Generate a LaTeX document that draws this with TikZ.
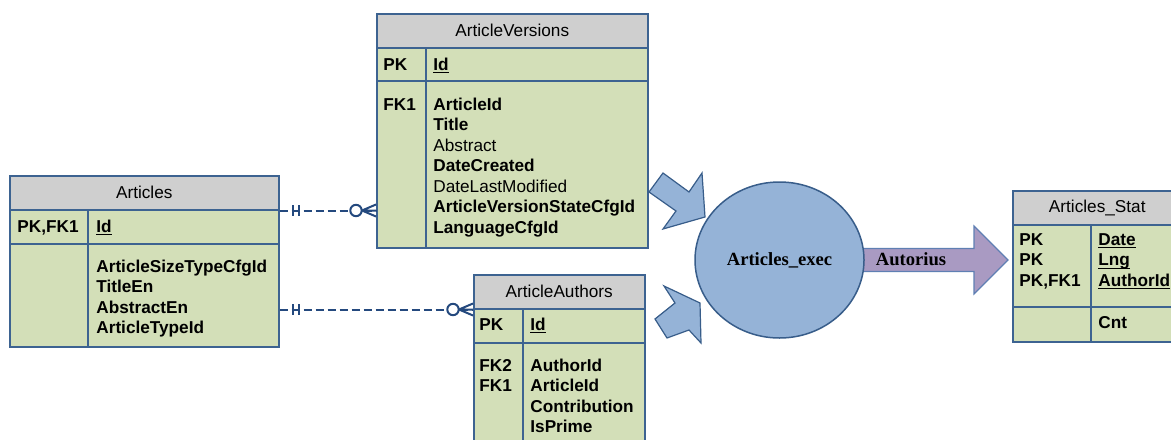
\documentclass[tikz,border=0pt]{standalone}
\usepackage{fontspec}
\setmainfont{Liberation Sans}
\newfontfamily\timesfont{Liberation Serif}
\usetikzlibrary{shapes.geometric,calc}
\definecolor{tblgreen}{HTML}{D3DFB8}
\definecolor{hdrgray}{HTML}{CFCFCF}
\definecolor{tblline}{HTML}{3D6391}
\definecolor{linkblue}{HTML}{24497E}
\definecolor{procblue}{HTML}{95B3D7}
\definecolor{procline}{HTML}{385D8A}
\definecolor{flowpurple}{HTML}{A99AC2}
\definecolor{flowline}{HTML}{5F7FB3}
\newcommand{\tblfont}{\fontsize{8.6}{10.25}\selectfont}
\newcommand{\keyfld}[1]{\underline{\smash{\textbf{#1}}}}
\tikzset{
  tblhead/.style={draw=tblline,fill=hdrgray,line width=0.75pt,anchor=north west,
    inner sep=0,minimum height=17pt,font=\tblfont},
  tblrow/.style={draw=tblline,fill=tblgreen,line width=0.75pt,anchor=north west,inner sep=0},
  tbldiv/.style={draw=tblline,line width=0.75pt},
  keycol/.style={anchor=base west,inner sep=0,font=\tblfont\bfseries,align=left,text width=36pt},
  fldcol/.style={anchor=base west,inner sep=0,font=\tblfont,align=left,text width=120pt},
  erlink/.style={draw=linkblue,line width=1pt,dash pattern=on 4pt off 2pt},
  ermark/.style={draw=linkblue,line width=1pt},
  feedarrow/.style={draw=procline,fill=procblue,line width=0.6pt},
  procnode/.style={ellipse,draw=procline,fill=procblue,line width=0.75pt,inner sep=0,
    minimum width=84.5pt,minimum height=78pt,font=\timesfont\bfseries\fontsize{9.3}{11}\selectfont}
}
\begin{document}
\begin{tikzpicture}[x=0.5pt,y=-0.5pt]
\useasboundingbox (0,0) rectangle (1171,439);

% Articles
\node[tblhead,minimum width=134.5pt] (art) at (9,175) {Articles};
\node[tblrow,minimum width=134.5pt,minimum height=17pt] (artpk) at (9,209) {};
\node[tblrow,minimum width=134.5pt,minimum height=51.5pt] (artbody) at (9,243) {};
\draw[tbldiv] (88,209) -- (88,346);
\node[keycol] (artk) at (17,232) {PK,FK1};
\node[fldcol] (artid) at (96,232) {\keyfld{Id}};
\node[fldcol] (artf) at (96,272) {\textbf{ArticleSizeTypeCfgId}\\ \textbf{TitleEn}\\
  \textbf{AbstractEn}\\ \textbf{ArticleTypeId}};

% ArticleVersions
\node[tblhead,minimum width=135.5pt] (av) at (376,13) {ArticleVersions};
\node[tblrow,minimum width=135.5pt,minimum height=16.5pt] (avpk) at (376,47) {};
\node[tblrow,minimum width=135.5pt,minimum height=83.5pt] (avbody) at (376,80) {};
\draw[tbldiv] (426,47) -- (426,247);
\node[keycol] (avk) at (383,70) {PK};
\node[fldcol] (avid) at (433,70) {\keyfld{Id}};
\node[keycol] (avfk) at (383,110) {FK1};
\node[fldcol] (avf) at (433,110) {\textbf{ArticleId}\\ \textbf{Title}\\ Abstract\\
  \textbf{DateCreated}\\ DateLastModified\\ \textbf{ArticleVersionStateCfgId}\\
  \textbf{LanguageCfgId}};

% ArticleAuthors
\node[tblhead,minimum width=85.5pt] (aa) at (473,274) {ArticleAuthors};
\node[tblrow,minimum width=85.5pt,minimum height=17pt] (aapk) at (473,308) {};
\node[tblrow,minimum width=85.5pt,minimum height=59pt] (aabody) at (473,342) {};
\draw[tbldiv] (523,308) -- (523,460);
\node[keycol] (aak) at (479,330) {PK};
\node[fldcol] (aaid) at (530,330) {\keyfld{Id}};
\node[keycol] (aafk) at (479,371) {FK2\\ FK1};
\node[fldcol] (aaf) at (530,371) {\textbf{AuthorId}\\ \textbf{ArticleId}\\
  \textbf{Contribution}\\ \textbf{IsPrime}};

% Articles_Stat
\node[tblhead,minimum width=84.5pt] (st) at (1012,190) {Articles\_Stat};
\node[tblrow,minimum width=84.5pt,minimum height=41pt] (stpk) at (1012,224) {};
\node[tblrow,minimum width=84.5pt,minimum height=17.5pt] (stbody) at (1012,306) {};
\draw[tbldiv] (1091,224) -- (1091,341);
\node[keycol] (stk) at (1019,245) {PK\\ PK\\ PK,FK1};
\node[fldcol] (stid) at (1098,245) {\keyfld{Date}\\ \keyfld{Lng}\\ \keyfld{AuthorId}};
\node[fldcol] (stf) at (1098,328) {\textbf{Cnt}};

% links
\coordinate (l1s) at (art.south east);
\coordinate (l1e) at (avbody.west |- l1s);
\draw[erlink] (l1s) -- (l1e);
\draw[ermark] ($(l1s)+(13,-5.5)$) -- ++(0,11) ($(l1s)+(19,-5.5)$) -- ++(0,11);
\draw[ermark] ($(l1e)+(-14,0)$) -- ($(l1e)+(0,-6)$) ($(l1e)+(-14,0)$) -- (l1e)
  ($(l1e)+(-14,0)$) -- ($(l1e)+(0,6)$);
\draw[ermark,fill=white] ($(l1e)+(-20,0)$) circle (2.85pt);

\coordinate (l2s) at (artbody.east |- aa.south west);
\coordinate (l2e) at (aa.south west);
\draw[erlink] (l2s) -- (l2e);
\draw[ermark] ($(l2s)+(13,-5.5)$) -- ++(0,11) ($(l2s)+(19,-5.5)$) -- ++(0,11);
\draw[ermark] ($(l2e)+(-14,0)$) -- ($(l2e)+(0,-6)$) ($(l2e)+(-14,0)$) -- (l2e)
  ($(l2e)+(-14,0)$) -- ($(l2e)+(0,6)$);
\draw[ermark,fill=white] ($(l2e)+(-20,0)$) circle (2.85pt);

% flow
\draw[feedarrow] (663,173) -- (689,192) -- (702,173) -- (705,217) -- (663,229)
  -- (676,211) -- (649,192) -- cycle;
\draw[feedarrow] (664,286) -- (700,303) -- (701,343) -- (689,330) -- (667,338)
  -- (655,319) -- (675,303) -- cycle;
\draw[draw=flowline,fill=flowpurple,line width=0.6pt] (850,248.5) -- (974,248.5)
  -- (974,226) -- (1008,260) -- (974,294) -- (974,271.5) -- (850,271.5) -- cycle;
\node[procnode] (exec) at (779.5,260) {Articles\_exec};
\node[anchor=base,inner sep=0,font=\timesfont\bfseries\fontsize{9.3}{11}\selectfont]
  (autlbl) at (911,265) {Autorius};
\end{tikzpicture}
\end{document}
